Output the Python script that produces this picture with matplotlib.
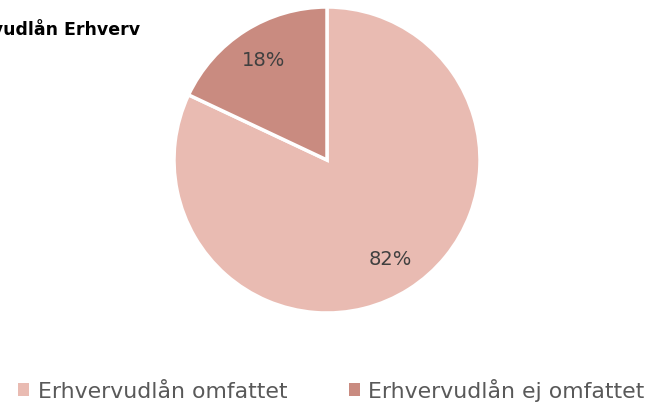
import matplotlib.pyplot as plt
from matplotlib.patches import Patch

labels = ["Erhvervudlån omfattet", "Erhvervudlån ej omfattet"]
values = [82, 18]
colors = ["#E9BBB2", "#C98B80"]
title = "Erhvervudlån Erhverv"

plt.rcParams['font.family'] = ['DejaVu Sans']
W, H = 652, 404
fig = plt.figure(figsize=(W/100, H/100), dpi=100)
cx, cy, r = 327, 160, 153
ax = fig.add_axes([(cx - r)/W, (H - cy - r)/H, 2*r/W, 2*r/H])
wedges, texts, autotexts = ax.pie(values, colors=colors, startangle=90, counterclock=False,
       autopct=lambda p: f"{p:.0f}%", pctdistance=0.77,
       wedgeprops=dict(edgecolor="white", linewidth=2.5),
       textprops=dict(color="#404040", fontsize=14))
ax.set_xlim(-1, 1)
ax.set_ylim(-1, 1)
ax.set_aspect('equal')
ax.axis('off')

fig.text(140/W, 1 - 30/H, title, ha='right', va='center', fontsize=12.5, fontweight='bold', color='black')

handles = [Patch(facecolor=c, edgecolor='none') for c in colors]
fig.legend(handles, labels, loc='center', bbox_to_anchor=(0.508, 1 - 390/H), ncol=2, frameon=False,
           fontsize=15.8, labelcolor='#595959', handlelength=0.5, handleheight=0.5,
           handletextpad=0.4, columnspacing=2.8)

fig.savefig("out.png", dpi=100)
